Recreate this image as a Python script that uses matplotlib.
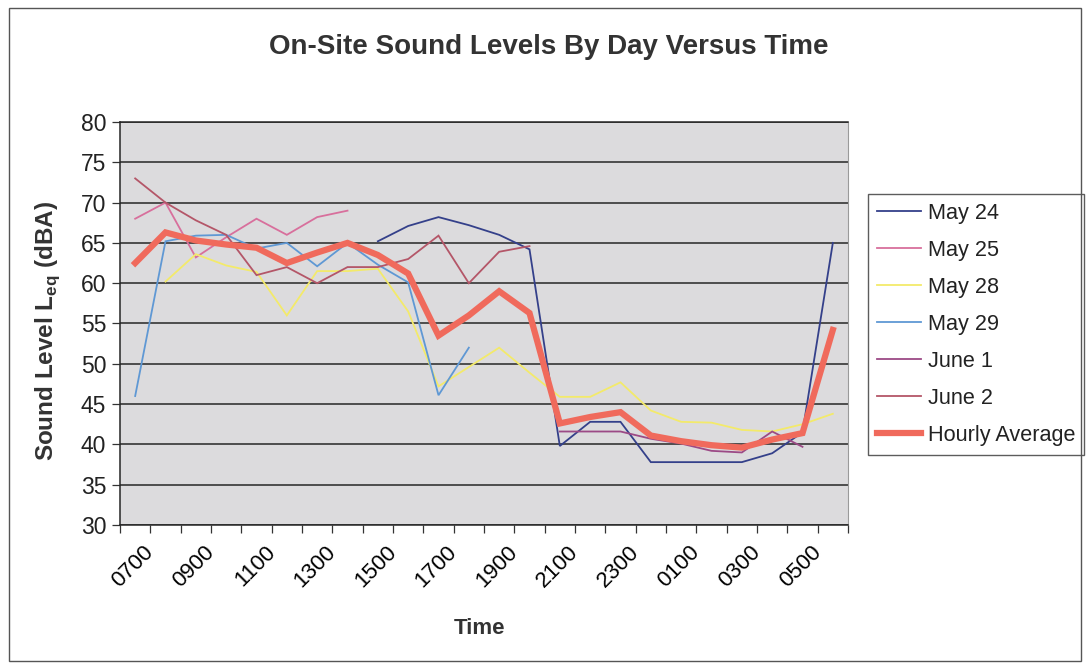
import matplotlib
matplotlib.use("Agg")
import matplotlib.pyplot as plt
import numpy as np
from matplotlib.patches import Rectangle
import matplotlib.transforms as mtransforms

plt.rcParams['font.family'] = ['Liberation Sans', 'DejaVu Sans']
plt.rcParams['mathtext.fontset'] = 'custom'
plt.rcParams['mathtext.rm'] = 'Liberation Sans'
plt.rcParams['mathtext.bf'] = 'Liberation Sans:bold'

# Hourly categories, 0700 through 0600 the next morning
hours = ["0700", "0800", "0900", "1000", "1100", "1200", "1300", "1400",
         "1500", "1600", "1700", "1800", "1900", "2000", "2100", "2200",
         "2300", "0000", "0100", "0200", "0300", "0400", "0500", "0600"]
tick_labels = hours[::2]

N = np.nan
may24 = [N, N, N, N, N, N, N, N,
         65.2, 67.1, 68.2, 67.2, 66.0, 64.2, 39.8, 42.8,
         42.8, 37.8, 37.8, 37.8, 37.8, 38.9, 41.5, 65.0]
may25 = [68.0, 70.0, 63.2, 65.7, 68.0, 66.0, 68.2, 69.0,
         N, N, N, N, N, N, N, N,
         N, N, N, N, N, N, N, N]
may28 = [N, 60.2, 63.6, 62.2, 61.4, 56.0, 61.5, 61.5,
         61.8, 56.5, 47.2, 49.6, 52.0, 48.9, 45.9, 45.9,
         47.7, 44.2, 42.8, 42.7, 41.8, 41.6, 42.5, 43.8]
may29 = [46.0, 65.2, 65.9, 66.0, 64.3, 65.0, 62.1, 65.0,
         62.3, 60.1, 46.1, 52.0, N, N, N, N,
         N, N, N, N, N, N, N, N]
june1 = [N, N, N, N, N, N, N, N,
         N, N, N, N, N, N, 41.6, 41.6,
         41.6, 40.7, 40.1, 39.2, 39.0, 41.6, 39.7, N]
june2 = [73.0, 70.0, 67.8, 66.0, 61.0, 62.0, 60.0, 62.0,
         62.0, 63.0, 65.9, 60.0, 63.9, 64.6, N, N,
         N, N, N, N, N, N, N, N]
hourly_avg = [62.5, 66.3, 65.3, 64.8, 64.4, 62.5, 63.8, 65.0,
              63.5, 61.2, 53.5, 56.0, 59.0, 56.3, 42.6, 43.4,
              44.0, 41.1, 40.4, 39.9, 39.6, 40.6, 41.4, 54.2]

series = [
    ("May 24", may24, "#34408a", 1.3),
    ("May 25", may25, "#d86f9c", 1.3),
    ("May 28", may28, "#f3ea6a", 1.3),
    ("May 29", may29, "#5f98d4", 1.3),
    ("June 1", june1, "#9c4a86", 1.3),
    ("June 2", june2, "#b45668", 1.3),
    ("Hourly Average", hourly_avg, "#f06a5c", 4.5),
]

fig = plt.figure(figsize=(10.89, 6.69), dpi=100)
fig.patch.set_facecolor("white")

# outer chart border
fig.patches.append(Rectangle((9 / 1089, 1 - 661 / 669), 1072 / 1089, 653 / 669,
                             transform=fig.transFigure, fill=False,
                             edgecolor="#555555", linewidth=1.0))

ax = fig.add_axes([120 / 1089, 1 - 525 / 669, 728 / 1089, 403 / 669])
ax.set_facecolor("#dcdbdd")

x = np.arange(len(hours))
for label, vals, color, lw in series:
    ax.plot(x, vals, color=color, linewidth=lw, label=label,
            solid_joinstyle="miter", zorder=3 if lw < 3 else 4)

ax.set_xlim(-0.5, len(hours) - 0.5)
ax.set_ylim(30, 80)
ax.set_yticks(np.arange(30, 81, 5))
ax.yaxis.grid(True, color="#262626", linewidth=1.1)
ax.set_axisbelow(True)

ax.set_xticks(np.arange(-0.5, len(hours), 1.0))
ax.set_xticklabels([])
ax.set_xticks(x[::2], minor=True)
ax.set_xticklabels(tick_labels, minor=True, rotation=45, ha="right",
                   rotation_mode="anchor", fontsize=16)
ax.tick_params(axis="x", which="major", length=6, width=0.9, color="#333333")
ax.tick_params(axis="x", which="minor", length=0, pad=12)
ax.tick_params(axis="y", length=6, width=0.9, color="#333333", labelsize=16.5, pad=4)
offset = mtransforms.ScaledTranslation(8 / 100, 0, fig.dpi_scale_trans)
for lbl in ax.xaxis.get_minorticklabels():
    lbl.set_transform(lbl.get_transform() + offset)
for lbl in ax.get_yticklabels():
    lbl.set_color("#222222")

for side in ("left", "bottom", "top"):
    ax.spines[side].set_color("#262626")
    ax.spines[side].set_linewidth(1.1)
ax.spines["right"].set_color("#9a9a9a")
ax.spines["right"].set_linewidth(0.8)

fig.text(549 / 1089, 1 - 47 / 669, "On-Site Sound Levels By Day Versus Time",
         ha="center", va="center", fontsize=20, fontweight="bold", color="#333333")
fig.text(479 / 1089, 1 - 628 / 669, "Time", ha="center", va="center",
         fontsize=16, fontweight="bold", color="#333333")
fig.text(48 / 1089, 1 - 331 / 669, r"Sound Level L$_\mathbf{eq}$ (dBA)",
         ha="center", va="center", rotation=90, fontsize=17.5,
         fontweight="bold", color="#333333")

leg = ax.legend(loc="upper left", bbox_to_anchor=(868 / 1089, 1 - 194 / 669),
                bbox_transform=fig.transFigure, fontsize=15.6, frameon=True,
                fancybox=False, edgecolor="#333333", handlelength=2.05,
                handletextpad=0.3, labelspacing=0.74, borderpad=0.4,
                borderaxespad=0)
leg.get_frame().set_linewidth(1.0)
for t in leg.get_texts():
    t.set_color("#222222")

fig.savefig("out.png", dpi=100)
